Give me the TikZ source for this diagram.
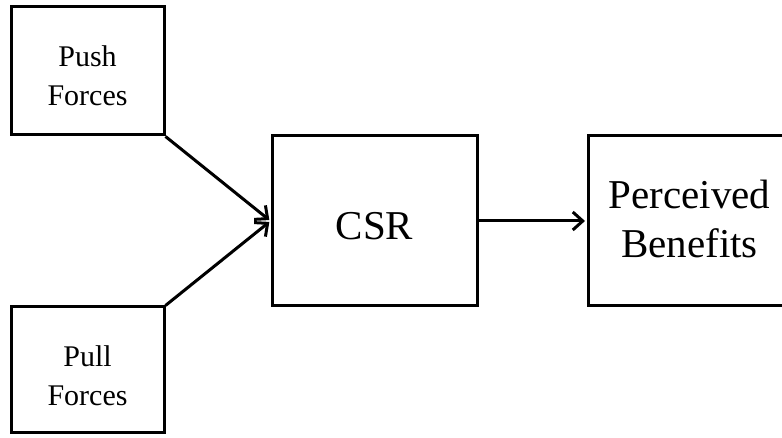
\documentclass[tikz,border=0pt]{standalone}
\usepackage{fontspec}
\setmainfont{Liberation Serif}
\usetikzlibrary{arrows.meta}
\tikzset{
  boxnode/.style={draw=black, line width=3pt, fill=white, inner sep=0pt},
  smalltxt/.style={font=\fontsize{30}{39}\selectfont, align=center, inner sep=0pt},
  bigtxt/.style={font=\fontsize{41}{49}\selectfont, align=center, inner sep=0pt},
  conn/.style={line width=3pt, -{Straight Barb[length=10pt,width=18pt,line width=3pt]}, shorten >=1.5pt}
}
\begin{document}
\begin{tikzpicture}[x=1pt,y=1pt]
\useasboundingbox (0,0) rectangle (782,438);
\node[boxnode, minimum width=153pt, minimum height=128pt] (pushbox) at (87.5,367) {};
\node[boxnode, minimum width=153pt, minimum height=126pt] (pullbox) at (87.5,68) {};
\node[boxnode, minimum width=205pt, minimum height=170pt] (csrbox) at (374.5,217) {};
\node[boxnode, minimum width=203pt, minimum height=170pt] (benbox) at (689.5,217) {};
\node[smalltxt] (pushtxt) at ([yshift=-5pt]pushbox.center) {Push\\Forces};
\node[smalltxt] (pulltxt) at ([yshift=-6pt]pullbox.center) {Pull\\Forces};
\node[bigtxt] (csrtxt) at ([yshift=-5.5pt]csrbox.center) {CSR};
\node[bigtxt] (bentxt) at ([yshift=2pt]benbox.center) {Perceived\\Benefits};
\draw[conn] (pushbox.south east) -- (csrbox.west);
\draw[conn] (pullbox.north east) -- (csrbox.west);
\draw[conn] (csrbox.east) -- (benbox.west);
\end{tikzpicture}
\end{document}
